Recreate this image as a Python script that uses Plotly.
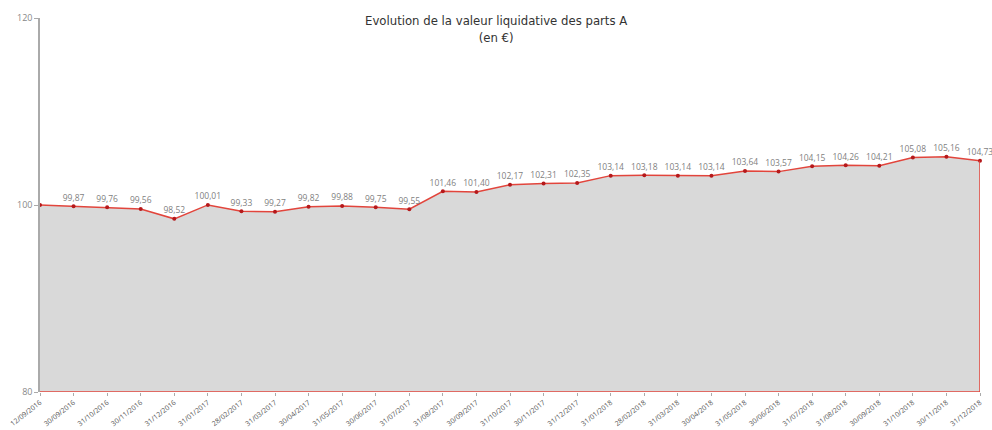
import plotly.graph_objects as go

dates = ["12/09/2016", "30/09/2016", "31/10/2016", "30/11/2016", "31/12/2016",
         "31/01/2017", "28/02/2017", "31/03/2017", "30/04/2017", "31/05/2017",
         "30/06/2017", "31/07/2017", "31/08/2017", "30/09/2017", "31/10/2017",
         "30/11/2017", "31/12/2017", "31/01/2018", "28/02/2018", "31/03/2018",
         "30/04/2018", "31/05/2018", "30/06/2018", "31/07/2018", "31/08/2018",
         "30/09/2018", "31/10/2018", "30/11/2018", "31/12/2018"]
values = [100.00, 99.87, 99.76, 99.56, 98.52, 100.01, 99.33, 99.27, 99.82, 99.88,
          99.75, 99.55, 101.46, 101.40, 102.17, 102.31, 102.35, 103.14, 103.18, 103.14,
          103.14, 103.64, 103.57, 104.15, 104.26, 104.21, 105.08, 105.16, 104.73]
y_ticks = [80, 100, 120]
title = "Evolution de la valeur liquidative des parts A<br>(en €)"

ymin, ymax = y_ticks[0], y_ticks[-1]
labels = [""] + [f"{v:.2f}".replace(".", ",") for v in values[1:]]

fig = go.Figure()
fig.add_trace(go.Scatter(
    x=dates, y=values, mode="lines+markers+text",
    fill="tozeroy", fillcolor="#d9d9d9",
    line=dict(color="#e2453c", width=1.5),
    marker=dict(color="#b5191b", size=4),
    text=labels, textposition="top center",
    textfont=dict(family="Open Sans, sans-serif", size=8.5, color="#7f7f7f"),
    cliponaxis=False, hoverinfo="x+y"))
fig.add_trace(go.Scatter(
    x=[dates[-1], dates[-1], dates[0]], y=[values[-1], ymin, ymin],
    mode="lines", line=dict(color="#e2453c", width=1.5), hoverinfo="skip"))

fig.add_annotation(
    text=title, xref="paper", yref="paper", x=0.485, y=1, yshift=7,
    xanchor="center", yanchor="top", showarrow=False, align="center",
    font=dict(family="DejaVu Sans Condensed, DejaVu Sans, sans-serif", size=13, color="#333333"))

fig.update_layout(
    width=992, height=430, showlegend=False,
    paper_bgcolor="white", plot_bgcolor="white",
    margin=dict(l=40, r=12, t=18, b=38),
    xaxis=dict(type="category", range=[0, len(dates) - 1], showgrid=False,
               tickangle=-38, tickfont=dict(family="Open Sans, sans-serif", size=7, color="#555555"),
               ticks="outside", ticklen=3, tickcolor="#aaaaaa",
               showline=False, zeroline=False, automargin=False),
    yaxis=dict(range=[ymin, ymax], tickvals=y_ticks, showgrid=False, zeroline=False,
               showline=True, linecolor="#aaaaaa", linewidth=1.5,
               ticks="outside", ticklen=4, tickcolor="#aaaaaa",
               tickfont=dict(family="Open Sans, sans-serif", size=9, color="#888888"),
               automargin=False),
)

fig.write_html("out.html", config={"displayModeBar": False},
               post_script="document.body.style.margin='0';document.body.style.overflow='hidden';")
